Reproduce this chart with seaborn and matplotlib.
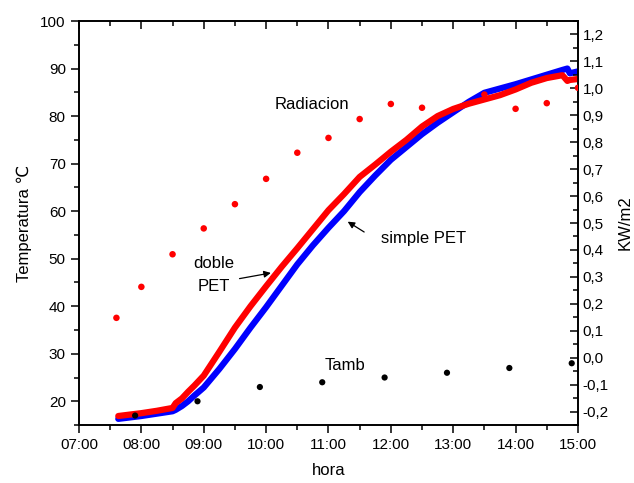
import matplotlib
matplotlib.use("Agg")
import matplotlib.pyplot as plt
from matplotlib.ticker import MultipleLocator, FuncFormatter
import seaborn as sns
import pandas as pd

# hours as decimal numbers, temperatures in C, radiation in kW/m2
t_pet = [7.63, 8.0, 8.25, 8.5, 8.55, 8.65, 8.75, 8.85, 9.0, 9.25, 9.5, 9.75, 10.0, 10.25, 10.5,
         10.75, 11.0, 11.25, 11.5, 11.75, 12.0, 12.25, 12.5, 12.75, 13.0, 13.25,
         13.5, 13.75, 14.0, 14.25, 14.5, 14.75, 14.83, 14.87, 15.0]
simple_pet = [16.3, 16.9, 17.4, 17.9, 18.2, 19.0, 20.0, 21.2, 22.9, 26.8, 31.0, 35.5, 39.8, 44.3, 48.8,
              52.8, 56.5, 60.0, 64.0, 67.5, 70.8, 73.5, 76.2, 78.6, 80.8, 83.0,
              84.9, 85.8, 86.7, 87.7, 88.7, 89.7, 90.0, 89.0, 89.4]
doble_pet = [16.9, 17.5, 18.0, 18.6, 19.6, 20.6, 22.0, 23.3, 25.4, 30.4, 35.5, 40.0, 44.2, 48.3, 52.2,
             56.2, 60.2, 63.6, 67.2, 69.8, 72.5, 75.0, 77.8, 80.0, 81.5, 82.6,
             83.5, 84.4, 85.6, 87.0, 88.0, 88.6, 87.4, 87.6, 87.8]

t_rad = [7.6, 8.0, 8.5, 9.0, 9.5, 10.0, 10.5, 11.0, 11.5, 12.0, 12.5, 13.5, 14.0, 14.5, 15.0]
radiacion = [0.148, 0.263, 0.384, 0.480, 0.570, 0.664, 0.761, 0.816, 0.886, 0.942,
             0.928, 0.977, 0.924, 0.945, 1.002]

t_amb = [7.9, 8.9, 9.9, 10.9, 11.9, 12.9, 13.9, 14.9]
tamb = [17, 20, 23, 24, 25, 26, 27, 28]

sns.set_style("ticks")
plt.rcParams['font.family'] = ['Liberation Sans', 'DejaVu Sans']
plt.rcParams['axes.linewidth'] = 1.2
for k in ['text.color', 'axes.labelcolor', 'xtick.color', 'ytick.color', 'axes.edgecolor']:
    plt.rcParams[k] = 'black'

fig = plt.figure(figsize=(6.34, 4.83), dpi=100)
ax = fig.add_axes([0.1246, 0.120, 0.787, 0.8365])

pet = pd.DataFrame({'hora': t_pet, 'simple': simple_pet, 'doble': doble_pet})
sns.lineplot(data=pet, x='hora', y='simple', ax=ax, color='#0000ff', lw=4.5, zorder=2)
sns.lineplot(data=pet, x='hora', y='doble', ax=ax, color='#ff0000', lw=4.5, zorder=3)
sns.scatterplot(x=t_amb, y=tamb, ax=ax, color='black', s=20, edgecolor='none', zorder=5)

ax.set_xlim(7, 15)
ax.set_ylim(15, 100)
ax.xaxis.set_major_locator(MultipleLocator(1))
ax.xaxis.set_minor_locator(MultipleLocator(0.5))
ax.xaxis.set_major_formatter(FuncFormatter(lambda v, p: f"{int(round(v)):02d}:00"))
ax.yaxis.set_major_locator(MultipleLocator(10))
ax.yaxis.set_minor_locator(MultipleLocator(5))
ax.yaxis.set_major_formatter(FuncFormatter(lambda v, p: f"{int(v)}" if v >= 20 else ""))
ax.tick_params(axis='both', which='major', labelsize=11, length=6, width=1.1, direction='out')
ax.tick_params(axis='both', which='minor', length=3.5, width=1.1, direction='out')
ax.tick_params(axis='x', which='both', top=True, labeltop=False)
ax.set_xlabel("hora", fontsize=12, labelpad=8)
ax.set_ylabel("Temperatura ℃", fontsize=12, labelpad=6)
for s in ax.spines.values():
    s.set_visible(True)

ax2 = ax.twinx()
sns.scatterplot(x=t_rad, y=radiacion, ax=ax2, color='#ff0000', s=22, edgecolor='none', zorder=4)
ax2.set_ylim(-0.25, 1.25)
ax2.yaxis.set_major_locator(MultipleLocator(0.1))
ax2.yaxis.set_minor_locator(MultipleLocator(0.05))
ax2.yaxis.set_major_formatter(FuncFormatter(lambda v, p: f"{v:.1f}".replace('.', ',').replace('-0,0', '0,0')
                                            if -0.21 < v < 1.21 else ""))
ax2.tick_params(axis='y', which='major', labelsize=11, length=6, width=1.1, direction='in')
ax2.tick_params(axis='y', which='minor', length=3.5, width=1.1, direction='in')
ax2.set_ylabel("KW/m2", fontsize=12, labelpad=6)
ax2.set_xlim(7, 15)

# top ticks point inward, as in the original
for tk in ax.xaxis.get_major_ticks() + ax.xaxis.get_minor_ticks():
    tk.tick2line.set_marker(matplotlib.markers.TICKDOWN)

ax.text(10.74, 82.5, "Radiacion", fontsize=12, ha='center', va='center')
ax.text(9.154, 49.0, "doble", fontsize=12, ha='center', va='center')
ax.text(9.154, 44.1, "PET", fontsize=12, ha='center', va='center')
ax.annotate("", xy=(10.12, 47.1), xytext=(9.53, 45.7),
            arrowprops=dict(arrowstyle='-|>', color='black', lw=0.9, mutation_scale=10))
ax.text(12.52, 54.3, "simple PET", fontsize=12, ha='center', va='center')
ax.annotate("", xy=(11.27, 58.1), xytext=(11.61, 55.3),
            arrowprops=dict(arrowstyle='-|>', color='black', lw=0.9, mutation_scale=10))
ax.text(11.27, 27.6, "Tamb", fontsize=12, ha='center', va='center')

fig.savefig("out.png", dpi=100)
